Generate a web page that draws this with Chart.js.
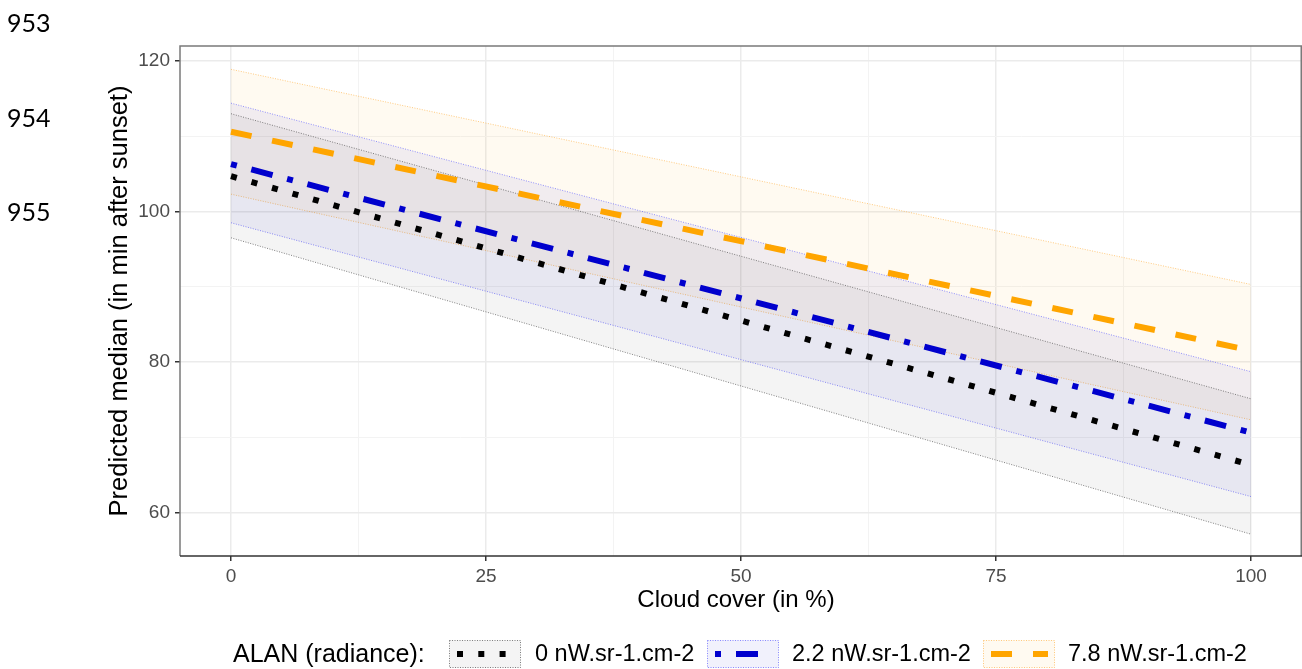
<!DOCTYPE html>
<html><head><meta charset="utf-8">
<script src="https://cdn.jsdelivr.net/npm/chart.js@4.4.1/dist/chart.umd.min.js"></script>
<style>
html,body{margin:0;padding:0;background:#fff;width:1302px;height:669px;overflow:hidden;}
#wrap{position:absolute;left:0;top:0;width:1302px;height:669px;}
.ln{position:absolute;left:7px;font-family:Lato,'Liberation Sans',sans-serif;font-size:25px;color:#000;line-height:1;z-index:2;}
</style></head><body>
<div id="wrap"><canvas id="c" width="1302" height="669"></canvas></div>
<div class="ln" style="top:10px">953</div>
<div class="ln" style="top:105px">954</div>
<div class="ln" style="top:199px">955</div>
<script>
// ---- data ----
const cloudCover = [0, 100];
const seriesNames = ['0 nW.sr-1.cm-2', '2.2 nW.sr-1.cm-2', '7.8 nW.sr-1.cm-2'];
const median0  = [104.7, 66.3];
const lower0   = [96.5, 57.1];
const upper0   = [113.0, 75.1];
const median22 = [106.3, 70.6];
const lower22  = [98.5, 62.1];
const upper22  = [114.4, 78.7];
const median78 = [110.6, 81.5];
const lower78  = [102.3, 72.3];
const upper78  = [118.9, 90.3];
const xTickLabels = [0, 25, 50, 75, 100];
const yTickLabels = [60, 80, 100, 120];
const xGridValues = [0, 12.5, 25, 37.5, 50, 62.5, 75, 87.5, 100];
const yGridValues = [60, 70, 80, 90, 100, 110, 120];

// ---- styles ----
const lineColors = ['#000000', '#0000CD', '#FFA500'];
const ribbonFills = ['rgba(0,0,0,0.045)', 'rgba(0,0,205,0.055)', 'rgba(255,165,0,0.055)'];
const ribbonEdges = ['rgba(60,60,60,0.8)', 'rgba(80,80,255,0.8)', 'rgba(255,175,60,0.8)'];
const lineDashes = [[6, 15.3], [6, 15, 22, 15], [21, 21]];

const pts = arr => cloudCover.map((x, i) => ({x: x, y: arr[i]}));
const medians = [median0, median22, median78];
const lowers = [lower0, lower22, lower78];
const uppers = [upper0, upper22, upper78];

const datasets = [];
// median lines first (drawn on top)
for (let s = 0; s < 3; s++) {
  datasets.push({
    label: seriesNames[s], data: pts(medians[s]),
    borderColor: lineColors[s], borderWidth: 6, borderDash: lineDashes[s],
    borderCapStyle: 'butt', pointRadius: 0, fill: false, tension: 0
  });
}
// ribbons
for (let s = 0; s < 3; s++) {
  datasets.push({
    label: 'upper ' + s, data: pts(uppers[s]),
    borderColor: ribbonEdges[s], borderWidth: 0.8, borderDash: [1, 1.5],
    pointRadius: 0, backgroundColor: ribbonFills[s], fill: '+1', tension: 0
  });
  datasets.push({
    label: 'lower ' + s, data: pts(lowers[s]),
    borderColor: ribbonEdges[s], borderWidth: 0.8, borderDash: [1, 1.5],
    pointRadius: 0, fill: false, tension: 0
  });
}

const TICK_FONT = {family: "'Liberation Sans', Arial, sans-serif", size: 19};

const decor = {
  id: 'decor',
  afterDraw(chart) {
    const ctx = chart.ctx, a = chart.chartArea;
    ctx.save();
    // panel border (top, right, left)
    ctx.strokeStyle = '#7a7a7a'; ctx.lineWidth = 1.5;
    ctx.beginPath();
    ctx.moveTo(a.left, a.bottom); ctx.lineTo(a.left, a.top);
    ctx.lineTo(a.right - 0.75, a.top); ctx.lineTo(a.right - 0.75, a.bottom);
    ctx.stroke();
    ctx.strokeStyle = '#333'; ctx.beginPath();
    ctx.moveTo(a.left, a.bottom); ctx.lineTo(a.right, a.bottom); ctx.stroke();
    // axis titles
    ctx.fillStyle = '#000';
    ctx.font = "24px 'Liberation Sans', Arial, sans-serif";
    ctx.textAlign = 'center'; ctx.textBaseline = 'middle';
    ctx.fillText('Cloud cover (in %)', (a.left + a.right) / 2 - 5, 600);
    ctx.save();
    ctx.font = "25.5px 'Liberation Sans', Arial, sans-serif";
    ctx.translate(120, (a.top + a.bottom) / 2);
    ctx.rotate(-Math.PI / 2);
    ctx.fillText('Predicted median (in min after sunset)', 0, 0);
    ctx.restore();
    // legend
    const ly = 655;
    ctx.textAlign = 'left';
    ctx.font = "25px 'Liberation Sans', Arial, sans-serif";
    ctx.fillText('ALAN (radiance):', 233, ly);
    ctx.font = "23.5px 'Liberation Sans', Arial, sans-serif";
    const boxes = [[449, 457, 518], [707, 715, 772], [983, 991, 1048]];
    const labelX = [535, 792, 1068];
    for (let s = 0; s < 3; s++) {
      const [bx, lx0, lx1] = boxes[s];
      ctx.fillStyle = '#fff'; ctx.fillRect(bx, 640, 72, 28);
      ctx.fillStyle = ribbonFills[s]; ctx.fillRect(bx, 640, 72, 28);
      ctx.strokeStyle = ribbonEdges[s]; ctx.lineWidth = 0.8; ctx.setLineDash([1, 1.5]);
      ctx.strokeRect(bx + 0.5, 640.5, 71, 27);
      ctx.setLineDash(lineDashes[s]);
      ctx.strokeStyle = lineColors[s]; ctx.lineWidth = 6; ctx.lineCap = 'butt';
      ctx.beginPath(); ctx.moveTo(lx0, 654); ctx.lineTo(lx1, 654); ctx.stroke();
      ctx.setLineDash([]);
      ctx.fillStyle = '#000';
      ctx.fillText(seriesNames[s], labelX[s], ly);
    }
    ctx.restore();
  }
};

new Chart(document.getElementById('c'), {
  type: 'line',
  data: {datasets: datasets},
  options: {
    responsive: false, animation: false, devicePixelRatio: 1,
    layout: {padding: {top: 46, right: 0, left: 0, bottom: 0}},
    plugins: {legend: {display: false}, tooltip: {enabled: false},
      filler: {propagate: false}},
    scales: {
      x: {
        type: 'linear', min: -5, max: 105,
        afterBuildTicks: sc => { sc.ticks = xGridValues.map(v => ({value: v})); },
        afterFit: sc => { sc.height = 113; },
        ticks: {
          autoSkip: false, maxRotation: 0, padding: 4, color: '#4D4D4D', font: TICK_FONT,
          callback: v => xTickLabels.includes(v) ? String(v) : ''
        },
        grid: {
          color: c => xTickLabels.includes(c.tick && c.tick.value) ? '#EBEBEB' : '#F3F3F3',
          lineWidth: c => xTickLabels.includes(c.tick && c.tick.value) ? 1.5 : 1,
          tickColor: c => xTickLabels.includes(c.tick && c.tick.value) ? '#333' : 'rgba(0,0,0,0)',
          tickLength: 5, tickWidth: 1.5
        },
        border: {display: false}
      },
      y: {
        type: 'linear', min: 54.2, max: 122.0,
        afterBuildTicks: sc => { sc.ticks = yGridValues.map(v => ({value: v})); },
        afterFit: sc => { sc.width = 180; },
        ticks: {
          autoSkip: false, padding: 5, color: '#4D4D4D', font: TICK_FONT,
          callback: v => yTickLabels.includes(v) ? String(v) : ''
        },
        grid: {
          color: c => yTickLabels.includes(c.tick && c.tick.value) ? '#EBEBEB' : '#F3F3F3',
          lineWidth: c => yTickLabels.includes(c.tick && c.tick.value) ? 1.5 : 1,
          tickColor: c => yTickLabels.includes(c.tick && c.tick.value) ? '#333' : 'rgba(0,0,0,0)',
          tickLength: 5, tickWidth: 1.5
        },
        border: {display: false}
      }
    }
  },
  plugins: [decor]
});
</script>
</body></html>
